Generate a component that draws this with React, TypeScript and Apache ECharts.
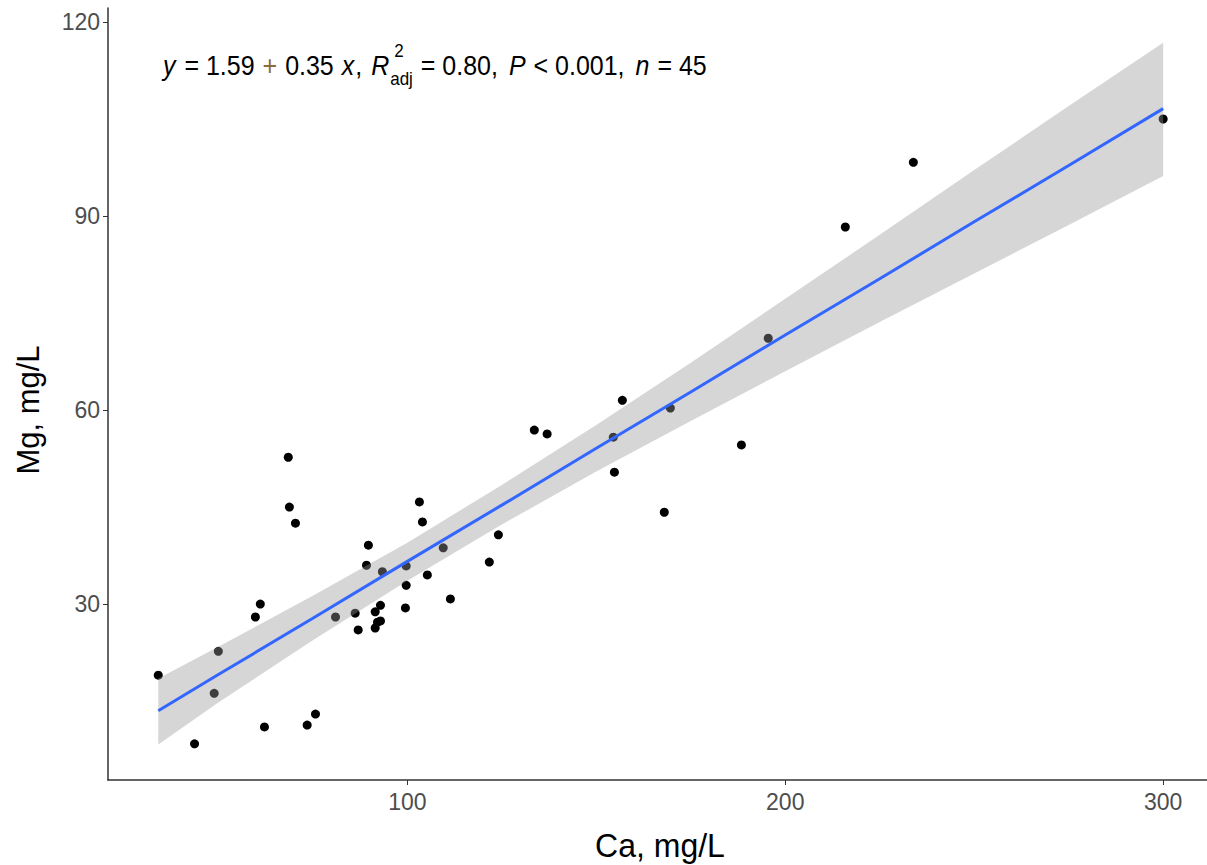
import React, { useEffect, useRef } from "react";
import * as echarts from "echarts";

// Scatter data: Ca (mg/L) vs Mg (mg/L)
const caValues = [
  34.1, 43.7, 50.0, 48.9, 59.8, 61.1, 62.2, 68.5, 68.8, 70.4,
  73.5, 75.7, 81.0, 86.2, 87.0, 89.2, 89.7, 91.5, 92.1, 92.9,
  91.5, 92.9, 93.4, 99.5, 99.7, 99.7, 103.2, 104.0, 105.3, 109.5,
  111.4, 121.7, 124.1, 133.6, 137.0, 154.8, 154.5, 156.9, 168.0, 169.6,
  188.4, 195.5, 215.9, 233.9, 300.0,
];
const mgValues = [
  19.0, 8.4, 22.7, 16.2, 28.0, 30.0, 11.0, 52.7, 45.0, 42.5,
  11.3, 13.0, 28.0, 28.6, 26.0, 36.0, 39.1, 28.8, 27.2, 27.4,
  26.3, 29.8, 35.0, 29.4, 32.9, 35.9, 45.8, 42.7, 34.5, 38.7,
  30.8, 36.5, 40.7, 56.9, 56.3, 50.4, 55.8, 61.5, 44.2, 60.3,
  54.6, 71.1, 88.3, 98.3, 105.0,
];

// Fitted line and confidence band
const bandCa = [34.1, 50, 75, 100, 125, 150, 175, 200, 225, 250, 275, 300];
const fitMg = [13.5, 19.1, 27.8, 36.6, 45.3, 54.1, 62.8, 71.6, 80.3, 89.1, 97.8, 106.6];
const lowerMg = [8.3, 14.8, 24.4, 33.6, 42.3, 50.5, 58.3, 66.0, 73.6, 81.1, 88.6, 96.2];
const upperMg = [18.5, 23.4, 31.3, 39.5, 48.4, 57.7, 67.3, 77.2, 87.1, 97.1, 107.0, 116.8];

// Tick labels
const xTicks = [100, 200, 300];
const yTicks = [30, 60, 90, 120];

const FONT = "'Liberation Sans', Arial, sans-serif";

function measure(text: string, size: number, italic: boolean): number {
  const c = document.createElement("canvas").getContext("2d");
  if (!c) return text.length * size * 0.5;
  c.font = `${italic ? "italic " : ""}${size}px ${FONT}`;
  return c.measureText(text).width;
}

function buildAnnotation(x0: number, yMid: number) {
  const size = 25;
  const small = 17;
  const sy = 1.1;
  const els: any[] = [];
  let x = x0;
  const put = (t: string, italic = false, color = "#000", extra = 0) => {
    els.push({
      type: "text",
      x,
      y: yMid,
      scaleY: sy,
      style: {
        text: t,
        font: `${italic ? "italic " : ""}${size}px ${FONT}`,
        fill: color,
        align: "left",
        verticalAlign: "middle",
      },
    });
    x += measure(t, size, italic) + extra;
  };
  put("y", true, "#000", 2);
  put(" = 1.59 ", false, "#000", 1);
  put("+", false, "#8a6a3a", 1);
  put(" 0.35 ", false, "#000", 1);
  put("x", true, "#000", 1);
  put(", ", false, "#000", 2);
  put("R", true);
  const sx = x + 1;
  els.push({
    type: "text",
    x: sx + 4,
    y: yMid - 15,
    scaleY: sy,
    style: { text: "2", font: `${small}px ${FONT}`, fill: "#000", align: "left", verticalAlign: "middle" },
  });
  els.push({
    type: "text",
    x: sx,
    y: yMid + 13,
    scaleY: sy,
    style: { text: "adj", font: `${small}px ${FONT}`, fill: "#000", align: "left", verticalAlign: "middle" },
  });
  x = sx + measure("adj", small, false) + 1;
  put(" = 0.80, ", false, "#000", 4);
  put("P", true, "#000", 1);
  put(" < 0.001, ", false, "#000", 4);
  put("n", true, "#000", 1);
  put(" = 45");
  return els;
}

export default function App() {
  const ref = useRef<HTMLDivElement>(null);
  useEffect(() => {
    if (!ref.current) return;
    const chart = echarts.init(ref.current, undefined, { renderer: "svg" });
    const points = caValues.map((v, i) => [v, mgValues[i]]);
    const fitLine = bandCa.map((v, i) => [v, fitMg[i]]);
    const axisColor = "#333333";
    chart.setOption({
      animation: false,
      backgroundColor: "#ffffff",
      grid: { left: 108, right: 0, top: 8, bottom: 85, containLabel: false },
      xAxis: {
        type: "value",
        min: 20.8,
        max: 311.6,
        splitLine: { show: false },
        axisLine: { show: true, onZero: false, lineStyle: { color: axisColor, width: 1.5 } },
        axisTick: { show: true, length: 5, lineStyle: { color: axisColor }, customValues: xTicks },
        axisLabel: {
          customValues: xTicks,
          color: "#4D4D4D",
          fontSize: 23,
          fontFamily: FONT,
          margin: 10,
        },
      },
      yAxis: {
        type: "value",
        min: 2.8,
        max: 122.16,
        splitLine: { show: false },
        axisLine: { show: true, onZero: false, lineStyle: { color: axisColor, width: 1.5 } },
        axisTick: { show: true, length: 5, lineStyle: { color: axisColor }, customValues: yTicks },
        axisLabel: {
          customValues: yTicks,
          color: "#4D4D4D",
          fontSize: 23,
          fontFamily: FONT,
          margin: 8,
        },
      },
      series: [
        {
          type: "scatter",
          data: points,
          symbolSize: 9,
          itemStyle: { color: "#000000", opacity: 1 },
          z: 1,
          silent: true,
        },
        {
          type: "custom",
          data: [[bandCa[0], lowerMg[0]]],
          z: 2,
          silent: true,
          clip: false,
          renderItem: (params: any, api: any) => {
            const up = bandCa.map((v, i) => api.coord([v, upperMg[i]]));
            const lo = bandCa.map((v, i) => api.coord([v, lowerMg[i]])).reverse();
            return {
              type: "polygon",
              shape: { points: up.concat(lo) },
              style: { fill: "rgba(153,153,153,0.4)", stroke: "none" },
            };
          },
        },
        {
          type: "line",
          data: fitLine,
          showSymbol: false,
          lineStyle: { color: "#3366FF", width: 3 },
          z: 3,
          silent: true,
        },
      ],
      graphic: [
        ...buildAnnotation(163, 66),
        {
          type: "text",
          x: 660,
          y: 845,
          scaleY: 1.05,
          style: {
            text: "Ca, mg/L",
            font: `32px ${FONT}`,
            fill: "#000",
            align: "center",
            verticalAlign: "middle",
          },
        },
        {
          type: "text",
          x: 28,
          y: 410,
          rotation: Math.PI / 2,
          style: {
            text: "Mg, mg/L",
            font: `31px ${FONT}`,
            fill: "#000",
            align: "center",
            verticalAlign: "middle",
          },
        },
      ],
    });
    return () => chart.dispose();
  }, []);
  return (
    <div
      ref={ref}
      style={{ position: "fixed", left: 0, top: 0, width: 1207, height: 865 }}
    />
  );
}
